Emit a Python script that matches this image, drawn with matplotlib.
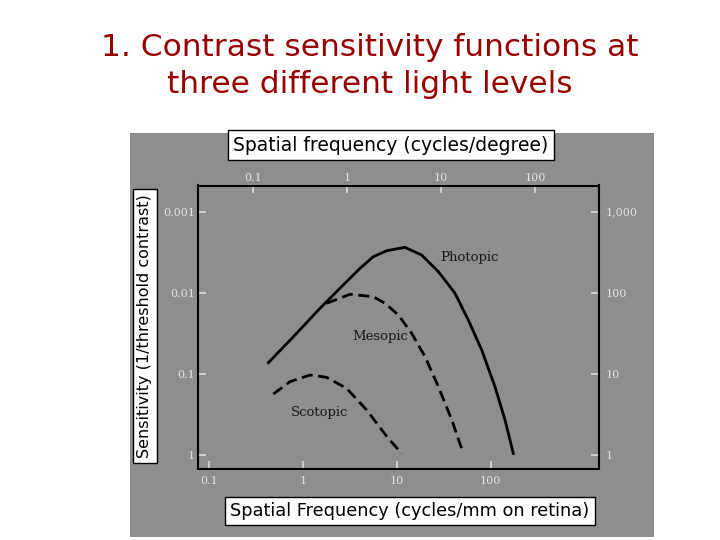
import matplotlib.pyplot as plt
from matplotlib.patches import Rectangle

# Curve values: x in cycles/mm on retina, y = sensitivity
photopic_x = [0.429, 0.791, 1.52, 2.69, 4.06, 5.62, 7.80, 12.2, 18.4, 27.7, 41.7, 57.7, 80.2, 111, 142, 174]
photopic_y = [13.6, 28.4, 63.8, 124, 199, 277, 328, 361, 290, 181, 97.7, 45.7, 19.5, 6.87, 2.67, 1.03]

mesopic_x = [1.79, 3.18, 5.62, 7.48, 10.4, 14.4, 20.0, 27.7, 38.5, 51.1]
mesopic_y = [73.6, 95.1, 88.7, 73.6, 52.7, 31.3, 16.1, 6.87, 2.67, 1.03]

scotopic_x = [0.484, 0.729, 1.19, 1.79, 2.92, 4.78, 8.11, 11.3]
scotopic_y = [5.58, 7.93, 9.57, 8.97, 6.56, 3.54, 1.58, 1.03]

mm_ticks = [0.1, 1, 10, 100]
mm_labels = ["0.1", "1", "10", "100"]
deg_ticks = [0.1, 1, 10, 100]
deg_labels = ["0.1", "1", "10", "100"]
sens_ticks = [1, 10, 100, 1000]
thresh_labels = ["1", "0.1", "0.01", "0.001"]
sens_labels = ["1", "10", "100", "1,000"]

W, H = 720, 540
bg = "#8e8e8e"
tick_col = "#e2e2e2"

fig = plt.figure(figsize=(7.2, 5.4), dpi=100)
fig.patch.set_facecolor("white")

# grey scanned panel
fig.patches.append(Rectangle((130 / W, 1 - 537 / H), 524 / W, 404 / H,
                             transform=fig.transFigure, facecolor=bg,
                             edgecolor="none", zorder=-5))

fig.text(370 / W, 1 - 66 / H, "1. Contrast sensitivity functions at\nthree different light levels",
         ha="center", va="center", fontsize=22.5, color="#990000",
         linespacing=1.35, family="DejaVu Sans")

ax = fig.add_axes([198 / W, 1 - 469 / H, 401 / W, 283.5 / H])
ax.patch.set_alpha(0)
ax.set_xscale("log")
ax.set_yscale("log")
ax.set_xlim(10 ** -1.117, 10 ** 3.153)
ax.set_ylim(10 ** -0.179, 10 ** 3.321)

ax.plot(photopic_x, photopic_y, color="black", lw=2)
ax.plot(mesopic_x, mesopic_y, color="black", lw=2, dashes=(4, 2))
ax.plot(scotopic_x, scotopic_y, color="black", lw=2, dashes=(4, 2))

lab_kw = dict(fontsize=9.5, family="DejaVu Serif", color="#1a1a1a", ha="center", va="center")
ax.text(58.7, 267, "Photopic", **lab_kw)
ax.text(6.62, 29.0, "Mesopic", **lab_kw)
ax.text(1.52, 3.28, "Scotopic", **lab_kw)

for s in ax.spines.values():
    s.set_linewidth(1.5)
    s.set_color("black")

tick_kw = dict(direction="in", length=6, width=1.1, color=tick_col,
               labelcolor=tick_col, labelsize=8)
ax.minorticks_off()
ax.set_xticks(mm_ticks, mm_labels, family="DejaVu Serif")
ax.set_yticks(sens_ticks, thresh_labels, family="DejaVu Serif")
ax.tick_params(axis="x", pad=5, **tick_kw)
ax.tick_params(axis="y", pad=2, **tick_kw)

top = ax.secondary_xaxis("top", functions=(lambda v: v / 2.96, lambda v: v * 2.96))
top.set_xticks(deg_ticks, deg_labels, family="DejaVu Serif")
top.minorticks_off()
top.tick_params(pad=2, **tick_kw)
top.spines["top"].set_visible(False)

right = ax.secondary_yaxis("right")
right.set_yticks(sens_ticks, sens_labels, family="DejaVu Serif")
right.minorticks_off()
right.tick_params(pad=5, **tick_kw)
right.spines["right"].set_visible(False)

box = dict(boxstyle="square,pad=0.3", facecolor="white", edgecolor="black", lw=1)
fig.text(391 / W, 1 - 145 / H, "Spatial frequency (cycles/degree)", ha="center", va="center",
         fontsize=13.5, color="black", bbox=box, zorder=5)
fig.text(145 / W, 1 - 326 / H, "Sensitivity (1/threshold contrast)", ha="center", va="center",
         rotation=90, fontsize=11.5, color="black", bbox=box, zorder=5)
fig.text(410 / W, 1 - 511 / H, "Spatial Frequency (cycles/mm on retina)", ha="center", va="center",
         fontsize=12.8, color="black", bbox=box, zorder=5)

fig.savefig("out.png", dpi=100, facecolor="white")
